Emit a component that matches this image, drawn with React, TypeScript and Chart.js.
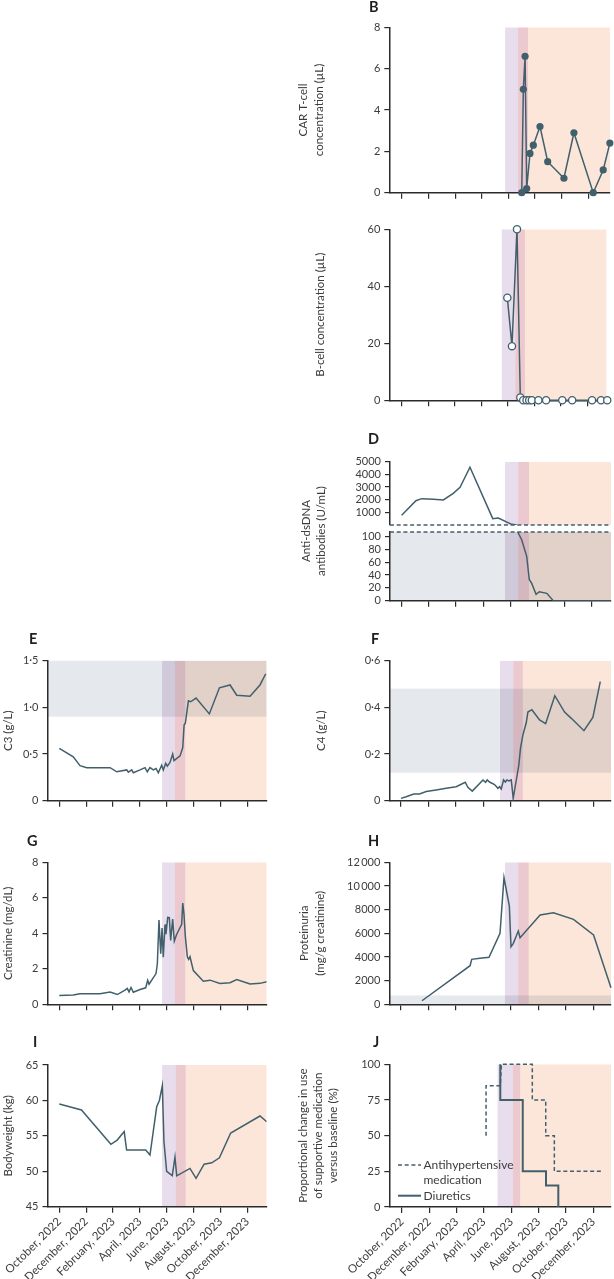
import React, { useEffect, useRef } from 'react';
import { Chart, registerables } from 'chart.js';

Chart.register(...registerables);

const FONT = 'Lato, "Noto Sans", "DejaVu Sans", sans-serif';
const LINE_COLOR = '#41606c';
const AXIS_COLOR = '#2b2b2b';
const TEXT_COLOR = '#3c3c3c';
const NORMAL_COLOR = '#e5e8ec';
const PHASE_COLORS = ['#e8ddec', '#ecc9cf', '#fce6da'];

// x axis: months since October 2022
const monthTicks = [0, 2, 4, 6, 8, 10, 12, 14];
const monthLabels = ['October, 2022', 'December, 2022', 'February, 2023', 'April, 2023', 'June, 2023', 'August, 2023', 'October, 2023', 'December, 2023'];

// B: CAR T-cell concentration
const carTMonths = [9.0, 9.12, 9.25, 9.37, 9.62, 9.87, 10.37, 10.95, 12.17, 12.92, 14.37, 15.12, 15.62];
const carTValues = [0, 5.0, 6.6, 0.2, 1.9, 2.3, 3.2, 1.5, 0.7, 2.9, 0, 1.1, 2.4];

// C: B-cell concentration
const bCellMonths = [7.97, 8.32, 8.7, 8.95, 9.17, 9.42, 9.62, 9.82, 10.32, 10.9, 12.12, 12.87, 14.37, 15.05, 15.52];
const bCellValues = [36, 19, 60, 1, 0, 0, 0, 0, 0, 0, 0, 0, 0, 0, 0];

// D: anti-dsDNA (broken axis)
const dsdnaHighMonths = [0, 1.05, 1.47, 2.33, 3.07, 3.8, 4.3, 5.03, 6.71, 7.12, 8.11, 8.47];
const dsdnaHighValues = [770, 1920, 2080, 2030, 1980, 2500, 2980, 4560, 500, 550, 50, 0];
const dsdnaLowMonths = [8.55, 8.84, 9.21, 9.4, 9.58, 9.9, 10.14, 10.69, 11.17, 15.42];
const dsdnaLowValues = [107, 95, 69, 33, 27, 10, 14, 11.5, 0, 0];

// E: C3
const c3Months = [0, 1.04, 1.54, 2.04, 3.78, 4.28, 5.02, 5.14, 5.39, 5.51, 6.01, 6.38, 6.55, 6.75, 7.0, 7.2, 7.37, 7.62, 7.74, 7.92, 8.04, 8.24, 8.44, 8.54, 8.99, 9.19, 9.29, 9.38, 9.61, 9.78, 10.18, 11.17, 11.92, 12.71, 13.21, 14.2, 14.94, 15.37];
const c3Values = [0.56, 0.47, 0.375, 0.354, 0.354, 0.31, 0.33, 0.305, 0.33, 0.30, 0.33, 0.354, 0.31, 0.354, 0.33, 0.345, 0.30, 0.38, 0.33, 0.40, 0.37, 0.41, 0.50, 0.43, 0.48, 0.57, 0.81, 0.83, 1.07, 1.06, 1.10, 0.93, 1.21, 1.24, 1.13, 1.12, 1.24, 1.36];

// F: C4
const c4Months = [0, 0.38, 0.93, 1.35, 1.84, 2.56, 3.29, 4.02, 4.68, 4.87, 5.19, 5.97, 6.16, 6.28, 6.45, 6.81, 7.06, 7.18, 7.3, 7.47, 7.6, 7.72, 7.86, 8.03, 8.17, 8.58, 8.7, 8.87, 9.12, 9.24, 9.53, 10.09, 10.53, 11.2, 11.91, 12.4, 13.32, 13.97, 14.51];
const c4Values = [0.01, 0.017, 0.029, 0.029, 0.039, 0.046, 0.053, 0.06, 0.079, 0.057, 0.041, 0.089, 0.079, 0.089, 0.08, 0.069, 0.053, 0.06, 0.05, 0.089, 0.08, 0.089, 0.085, 0.089, 0.01, 0.153, 0.224, 0.28, 0.334, 0.38, 0.39, 0.346, 0.33, 0.45, 0.38, 0.353, 0.30, 0.357, 0.51];

// G: creatinine
const creatMonths = [0, 1.04, 1.54, 3.03, 3.78, 4.32, 4.89, 5.06, 5.19, 5.34, 5.51, 6.01, 6.43, 6.58, 6.68, 7.2, 7.3, 7.42, 7.55, 7.65, 7.74, 7.87, 7.94, 8.07, 8.19, 8.29, 8.44, 8.56, 8.74, 9.11, 9.19, 9.28, 9.38, 9.53, 9.63, 9.73, 9.98, 10.72, 11.22, 11.96, 12.71, 13.21, 14.2, 14.94, 15.44];
const creatValues = [0.5, 0.52, 0.6, 0.6, 0.69, 0.55, 0.8, 0.9, 0.7, 0.95, 0.68, 0.83, 0.93, 1.35, 1.13, 1.73, 2.3, 4.75, 2.85, 4.3, 2.65, 4.5, 3.95, 4.9, 4.88, 3.6, 4.8, 3.56, 3.95, 4.5, 5.7, 5.1, 3.84, 2.68, 2.53, 2.68, 1.9, 1.3, 1.36, 1.17, 1.22, 1.39, 1.14, 1.18, 1.27];

// H: proteinuria
const protMonths = [1.53, 5.03, 5.15, 5.75, 6.41, 7.21, 7.5, 7.89, 8.01, 8.18, 8.54, 8.67, 10.13, 11.1, 12.56, 14.02, 15.29];
const protValues = [300, 3260, 3800, 3890, 3970, 6000, 10700, 8300, 4870, 5150, 6190, 5630, 7550, 7740, 7180, 5860, 1400];

// I: bodyweight
const weightMonths = [0, 1.65, 3.84, 4.31, 4.83, 5.01, 6.43, 6.75, 7.25, 7.45, 7.67, 7.79, 7.99, 8.41, 8.61, 8.74, 9.73, 10.18, 10.78, 11.35, 11.92, 12.76, 14.94, 15.44];
const weightValues = [59.5, 58.65, 53.8, 54.4, 55.6, 53.0, 53.0, 52.3, 59.1, 60.0, 62.1, 54.2, 50.0, 49.4, 52.0, 49.35, 50.4, 49.0, 51.0, 51.2, 51.9, 55.4, 57.8, 57.0];

// J: supportive medication
const antihypMonths = [6.16, 6.16, 7.2, 7.28, 9.54, 9.54, 10.52, 10.52, 11.15, 11.15, 14.6];
const antihypValues = [50, 85, 85, 100, 100, 75, 75, 50, 50, 25, 25];
const diureticMonths = [7.2, 7.2, 8.84, 8.84, 10.54, 10.54, 11.44, 11.44];
const diureticValues = [100, 75, 75, 25, 25, 15, 15, 0];
const legendLabels = [['Antihypertensive', 'medication'], ['Diuretics']];

// treatment phase boundaries (months) per panel: [purple start, red start, peach start, end]
const phasesB = [7.75, 8.72, 9.47, 15.63];
const phasesC = [7.55, 8.57, 9.3, 15.45];
const phasesD = [7.61, 8.59, 9.38, 15.42];
const phasesE = [7.65, 8.61, 9.38, 15.44];
const phasesF = [7.21, 8.18, 8.87, 15.29];
const phasesG = [7.65, 8.61, 9.38, 15.44];
const phasesH = [7.57, 8.54, 9.3, 15.29];
const phasesI = [7.65, 8.67, 9.41, 15.44];
const phasesJ = [7.0, 8.12, 8.65, 15.29];

// normal ranges
const normalC3 = [0.9, 1.8];
const normalC4 = [0.12, 0.48];
const normalProt = [0, 750];
const normalDsdna = [0, 110];

const pts = (xs: number[], ys: number[]) => xs.map((x, i) => ({ x, y: ys[i] }));
const decimal = (v: number) => (v === 0 ? '0' : v.toFixed(1).replace('.', '\u00b7'));
const thousands = (v: number) => (v >= 10000 ? `${Math.floor(v / 1000)}\u2009${String(v % 1000).padStart(3, '0')}` : String(v));

const lineDs = (xs: number[], ys: number[], extra: any = {}) => ({
  data: pts(xs, ys),
  borderColor: LINE_COLOR,
  borderWidth: 1.5,
  pointRadius: 0,
  tension: 0,
  fill: false,
  ...extra,
});

type Spec = {
  key: string;
  box: { x: number; y: number; w: number; h: number };
  area: { l: number; t: number; r: number; b: number };
  xRange: [number, number];
  yRange: [number, number];
  yTicks: number[];
  yFormat?: (v: number) => string;
  phases: number[];
  normal?: number[];
  title?: { lines: string[]; xs: number[]; cy?: number };
  letter?: { text: string; x: number; y: number };
  datasets: any[];
  xLabels?: boolean;
  xAxis?: boolean;
  breakAt?: 'top' | 'bottom';
  legend?: boolean;
};

const RIGHT = 290;

const specs: Spec[] = [
  {
    key: 'B', box: { x: RIGHT, y: 0, w: 324, h: 210 }, area: { l: 389.3, t: 27.3, r: 610, b: 192.7 },
    xRange: [-0.95, 15.63], yRange: [0, 8], yTicks: [0, 2, 4, 6, 8], phases: phasesB,
    title: { lines: ['CAR T-cell', 'concentration (\u00b5L)'], xs: [303, 319] },
    letter: { text: 'B', x: 369, y: 12 },
    datasets: [lineDs(carTMonths, carTValues, { pointRadius: 3.6, pointBackgroundColor: LINE_COLOR, pointBorderColor: LINE_COLOR, pointBorderWidth: 0, clip: 8 })],
  },
  {
    key: 'C', box: { x: RIGHT, y: 212, w: 324, h: 200 }, area: { l: 389.3, t: 229.3, r: 610, b: 400.3 },
    xRange: [-0.95, 15.63], yRange: [0, 60], yTicks: [0, 20, 40, 60], phases: phasesC,
    title: { lines: ['B-cell concentration (\u00b5L)'], xs: [320] },
    datasets: [lineDs(bCellMonths, bCellValues, { pointRadius: 3.6, pointBackgroundColor: '#ffffff', pointBorderColor: LINE_COLOR, pointBorderWidth: 1.3, clip: 8 })],
  },
  {
    key: 'Dtop', box: { x: RIGHT, y: 425, w: 324, h: 103 }, area: { l: 390, t: 461.7, r: 611, b: 525 },
    xRange: [-0.86, 15.42], yRange: [0, 5000], yTicks: [1000, 2000, 3000, 4000, 5000], phases: phasesD,
    letter: { text: 'D', x: 368, y: 444 }, xAxis: false, breakAt: 'bottom',
    datasets: [lineDs(dsdnaHighMonths, dsdnaHighValues)],
  },
  {
    key: 'Dlow', box: { x: RIGHT, y: 470, w: 324, h: 142 }, area: { l: 390, t: 532, r: 611, b: 600.7 },
    xRange: [-0.86, 15.42], yRange: [0, 107], yTicks: [0, 20, 40, 60, 80, 100], phases: phasesD, normal: normalDsdna,
    title: { lines: ['Anti-dsDNA', 'antibodies (U/mL)'], xs: [306, 321], cy: 531 }, breakAt: 'top',
    datasets: [lineDs(dsdnaLowMonths, dsdnaLowValues)],
  },
  {
    key: 'E', box: { x: 0, y: 625, w: 290, h: 190 }, area: { l: 47.5, t: 660.7, r: 266.7, b: 800.7 },
    xRange: [-0.88, 15.44], yRange: [0, 1.5], yTicks: [0, 0.5, 1, 1.5], yFormat: decimal, phases: phasesE, normal: normalC3,
    title: { lines: ['C3 (g/L)'], xs: [8] }, letter: { text: 'E', x: 29, y: 644 },
    datasets: [lineDs(c3Months, c3Values)],
  },
  {
    key: 'F', box: { x: RIGHT, y: 625, w: 324, h: 190 }, area: { l: 389.3, t: 660.7, r: 611, b: 800.7 },
    xRange: [-0.85, 15.29], yRange: [0, 0.6], yTicks: [0, 0.2, 0.4, 0.6], yFormat: decimal, phases: phasesF, normal: normalC4,
    title: { lines: ['C4 (g/L)'], xs: [321] }, letter: { text: 'F', x: 371, y: 644 },
    datasets: [lineDs(c4Months, c4Values)],
  },
  {
    key: 'G', box: { x: 0, y: 825, w: 290, h: 192 }, area: { l: 47.5, t: 862.3, r: 266.7, b: 1004.3 },
    xRange: [-0.88, 15.44], yRange: [0, 8], yTicks: [0, 2, 4, 6, 8], phases: phasesG,
    title: { lines: ['Creatinine (mg/dL)'], xs: [8] }, letter: { text: 'G', x: 27, y: 846 },
    datasets: [lineDs(creatMonths, creatValues)],
  },
  {
    key: 'H', box: { x: RIGHT, y: 825, w: 324, h: 192 }, area: { l: 389.3, t: 862.3, r: 611, b: 1004.3 },
    xRange: [-0.85, 15.29], yRange: [0, 12000], yTicks: [0, 2000, 4000, 6000, 8000, 10000, 12000], yFormat: thousands, phases: phasesH, normal: normalProt,
    title: { lines: ['Proteinuria', '(mg/g creatinine)'], xs: [304, 320] }, letter: { text: 'H', x: 368, y: 846 },
    datasets: [lineDs(protMonths, protValues, { clip: 4 })],
  },
  {
    key: 'I', box: { x: 0, y: 1025, w: 290, h: 254 }, area: { l: 47.5, t: 1065, r: 266.7, b: 1206.7 },
    xRange: [-0.88, 15.44], yRange: [45, 65], yTicks: [45, 50, 55, 60, 65], phases: phasesI,
    title: { lines: ['Bodyweight (kg)'], xs: [8] }, letter: { text: 'I', x: 33, y: 1047 }, xLabels: true,
    datasets: [lineDs(weightMonths, weightValues)],
  },
  {
    key: 'J', box: { x: RIGHT, y: 1025, w: 324, h: 254 }, area: { l: 389.3, t: 1064.3, r: 611, b: 1207 },
    xRange: [-0.91, 15.29], yRange: [0, 100], yTicks: [0, 25, 50, 75, 100], phases: phasesJ,
    title: { lines: ['Proportional change in use', 'of supportive medication', 'versus baseline (%)'], xs: [303, 318, 333] },
    letter: { text: 'J', x: 373, y: 1047 }, xLabels: true, legend: true,
    datasets: [
      lineDs(antihypMonths, antihypValues, { borderDash: [4, 2.7], borderWidth: 1.5, clip: 4 }),
      lineDs(diureticMonths, diureticValues, { borderWidth: 2, clip: 4 }),
    ],
  },
];

function buildConfig(s: Spec): any {
  const { box, area } = s;
  const xAxisH = box.y + box.h - area.b;
  const showX = s.xAxis !== false;
  const deco = {
    id: 'deco' + s.key,
    beforeDraw(chart: any) {
      const { ctx, chartArea: ca, scales } = chart;
      const x = scales.x;
      const y = scales.y;
      ctx.save();
      ctx.beginPath();
      ctx.rect(ca.left, ca.top, ca.right - ca.left, ca.bottom - ca.top);
      ctx.clip();
      if (s.normal) {
        const y1 = y.getPixelForValue(s.normal[1]);
        const y0 = y.getPixelForValue(s.normal[0]);
        ctx.fillStyle = NORMAL_COLOR;
        ctx.fillRect(ca.left, y1, ca.right - ca.left, y0 - y1);
      }
      ctx.globalCompositeOperation = 'multiply';
      PHASE_COLORS.forEach((c, i) => {
        const a = x.getPixelForValue(s.phases[i]);
        const b = x.getPixelForValue(s.phases[i + 1]);
        ctx.fillStyle = c;
        ctx.fillRect(a, ca.top, b - a, ca.bottom - ca.top);
      });
      ctx.restore();
    },
    afterDraw(chart: any) {
      const { ctx, chartArea: ca } = chart;
      ctx.save();
      if (s.letter) {
        ctx.fillStyle = '#1e1e1e';
        ctx.font = `bold 14.5px ${FONT}`;
        ctx.textAlign = 'left';
        ctx.textBaseline = 'alphabetic';
        ctx.fillText(s.letter.text, s.letter.x - box.x, s.letter.y - box.y);
      }
      if (s.title) {
        const cy = (s.title.cy !== undefined ? s.title.cy - box.y : (ca.top + ca.bottom) / 2);
        ctx.fillStyle = TEXT_COLOR;
        ctx.font = `11.5px ${FONT}`;
        ctx.textAlign = 'center';
        ctx.textBaseline = 'middle';
        s.title.lines.forEach((line, i) => {
          ctx.save();
          ctx.translate(s.title!.xs[i] - box.x, cy);
          ctx.rotate(-Math.PI / 2);
          ctx.fillText(line, 0, 0);
          ctx.restore();
        });
      }
      if (s.breakAt) {
        const yy = s.breakAt === 'bottom' ? ca.bottom : ca.top;
        ctx.strokeStyle = LINE_COLOR;
        ctx.lineWidth = 1.3;
        ctx.setLineDash([4, 2.7]);
        ctx.beginPath();
        ctx.moveTo(ca.left, yy);
        ctx.lineTo(ca.right, yy);
        ctx.stroke();
        ctx.setLineDash([]);
      }
      if (s.legend) {
        const lx0 = 398 - box.x;
        const lx1 = 421 - box.x;
        const tx = 423.5 - box.x;
        const rows = [1165 - box.y, 1195.7 - box.y];
        ctx.strokeStyle = LINE_COLOR;
        ctx.fillStyle = TEXT_COLOR;
        ctx.font = `12px ${FONT}`;
        ctx.textAlign = 'left';
        ctx.textBaseline = 'middle';
        legendLabels.forEach((lines, i) => {
          ctx.lineWidth = i === 0 ? 1.5 : 2;
          ctx.setLineDash(i === 0 ? [4, 2.7] : []);
          ctx.beginPath();
          ctx.moveTo(lx0, rows[i]);
          ctx.lineTo(lx1, rows[i]);
          ctx.stroke();
          lines.forEach((t, j) => ctx.fillText(t, tx, rows[i] + j * 15));
        });
        ctx.setLineDash([]);
      }
      ctx.restore();
    },
  };

  return {
    type: 'line',
    data: { datasets: s.datasets },
    plugins: [deco],
    options: {
      animation: false,
      responsive: false,
      maintainAspectRatio: false,
      devicePixelRatio: 1,
      events: [],
      layout: { padding: { left: 0, top: area.t - box.y, right: box.x + box.w - area.r, bottom: 0 } },
      plugins: { legend: { display: false }, tooltip: { enabled: false }, title: { display: false } },
      scales: {
        x: {
          type: 'linear',
          min: s.xRange[0],
          max: s.xRange[1],
          afterBuildTicks: (sc: any) => { sc.ticks = monthTicks.map((v) => ({ value: v })); },
          afterFit: (sc: any) => { sc.height = xAxisH; sc.paddingLeft = 0; sc.paddingRight = 0; },
          grid: { display: showX, drawOnChartArea: false, drawTicks: true, tickLength: 6, color: AXIS_COLOR, lineWidth: 1.2 },
          border: { display: showX, color: AXIS_COLOR, width: 1.5 },
          ticks: {
            display: !!s.xLabels,
            autoSkip: false,
            maxRotation: 45,
            minRotation: 45,
            padding: 2,
            color: TEXT_COLOR,
            font: { family: FONT, size: 11.5 },
            callback: (_v: any, i: number) => monthLabels[i],
          },
        },
        y: {
          type: 'linear',
          min: s.yRange[0],
          max: s.yRange[1],
          afterBuildTicks: (sc: any) => { sc.ticks = s.yTicks.map((v) => ({ value: v })); },
          afterFit: (sc: any) => { sc.width = area.l - box.x; sc.paddingTop = 0; sc.paddingBottom = 0; },
          grid: { display: true, drawOnChartArea: false, drawTicks: true, tickLength: 5, color: AXIS_COLOR, lineWidth: 1.2 },
          border: { display: true, color: AXIS_COLOR, width: 1.5 },
          ticks: {
            autoSkip: false,
            padding: 4,
            color: TEXT_COLOR,
            font: { family: FONT, size: 11 },
            callback: (v: any) => (s.yFormat ? s.yFormat(Number(v)) : String(v)),
          },
        },
      },
    },
  };
}

function Panel({ spec }: { spec: Spec }) {
  const ref = useRef<HTMLCanvasElement>(null);
  useEffect(() => {
    const chart = new Chart(ref.current as HTMLCanvasElement, buildConfig(spec));
    return () => chart.destroy();
  }, [spec]);
  const { box } = spec;
  return (
    <canvas
      ref={ref}
      width={box.w}
      height={box.h}
      style={{ position: 'absolute', left: box.x, top: box.y, width: box.w, height: box.h }}
    />
  );
}

export default function App() {
  return (
    <div style={{ position: 'absolute', left: 0, top: 0, width: 614, height: 1279, background: '#ffffff', overflow: 'hidden' }}>
      {specs.map((s) => (
        <Panel key={s.key} spec={s} />
      ))}
    </div>
  );
}
